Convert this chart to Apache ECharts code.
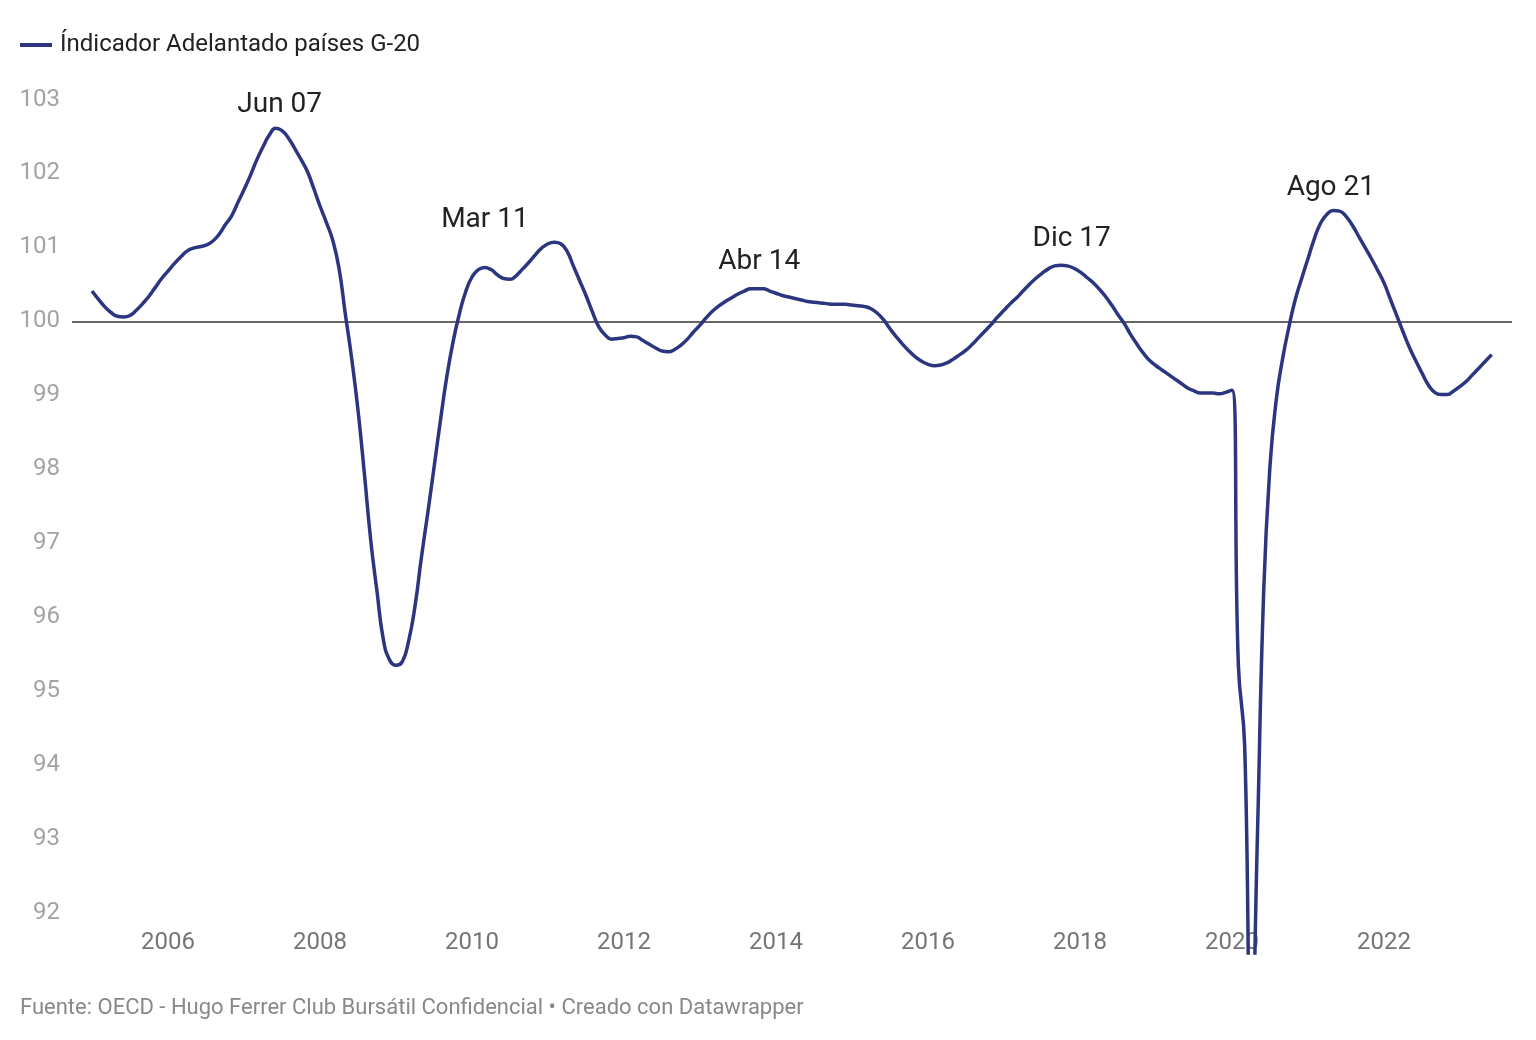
<!DOCTYPE html>
<html>
<head>
<meta charset="utf-8">
<style>
html,body{margin:0;padding:0;background:#fff;}
#chart{width:1536px;height:1040px;}
</style>
<script src="https://cdn.jsdelivr.net/npm/echarts@6/dist/echarts.min.js"></script>
</head>
<body>
<div id="chart"></div>
<script>
// Months: Jan 2005 .. Jun 2023
const startYear = 2005;
const seriesName = 'Índicador Adelantado países G-20';
const v2005 = [100.41,100.30,100.20,100.12,100.07,100.06,100.08,100.15,100.24,100.34,100.46,100.58];
const v2006 = [100.68,100.78,100.87,100.95,100.99,101.01,101.03,101.08,101.17,101.30,101.42,101.60];
const v2007 = [101.78,101.97,102.18,102.36,102.52,102.61,102.58,102.48,102.34,102.19,102.03,101.80];
const v2008 = [101.56,101.34,101.10,100.72,100.10,99.50,98.80,97.95,97.05,96.35,95.70,95.42];
const v2009 = [95.35,95.40,95.68,96.15,96.80,97.40,98.02,98.65,99.24,99.72,100.10,100.40];
const v2010 = [100.60,100.70,100.73,100.70,100.63,100.58,100.57,100.62,100.71,100.80,100.90,100.99];
const v2011 = [101.05,101.07,101.05,100.95,100.75,100.55,100.35,100.13,99.93,99.82,99.76,99.77];
const v2012 = [99.78,99.80,99.79,99.74,99.69,99.64,99.60,99.59,99.62,99.68,99.76,99.86];
const v2013 = [99.95,100.05,100.14,100.21,100.27,100.32,100.37,100.41,100.44,100.44,100.44,100.41];
const v2014 = [100.38,100.35,100.33,100.31,100.29,100.27,100.26,100.25,100.24,100.23,100.23,100.23];
const v2015 = [100.22,100.21,100.20,100.17,100.11,100.02,99.90,99.79,99.69,99.60,99.52,99.46];
const v2016 = [99.42,99.40,99.41,99.44,99.49,99.55,99.61,99.69,99.78,99.87,99.96,100.06];
const v2017 = [100.15,100.24,100.32,100.41,100.50,100.58,100.65,100.71,100.75,100.76,100.75,100.72];
const v2018 = [100.67,100.60,100.53,100.44,100.34,100.22,100.09,99.97,99.82,99.69,99.57,99.47];
const v2019 = [99.40,99.34,99.28,99.22,99.16,99.10,99.06,99.03,99.03,99.03,99.02,99.04];
const v2020 = [99.07,95.36,94.26,89.80,93.00,96.35,98.05,98.95,99.50,99.93,100.30,100.58];
const v2021 = [100.85,101.12,101.33,101.45,101.50,101.49,101.42,101.30,101.15,101.00,100.85,100.69];
const v2022 = [100.52,100.30,100.08,99.86,99.65,99.47,99.30,99.14,99.04,99.01,99.01,99.06];
const v2023 = [99.12,99.19,99.28,99.37,99.46,99.55];
const yearValues = [v2005,v2006,v2007,v2008,v2009,v2010,v2011,v2012,v2013,v2014,v2015,v2016,v2017,v2018,v2019,v2020,v2021,v2022,v2023];

const yTicks = [92,93,94,95,96,97,98,99,100,101,102,103];
const xTicks = [2006,2008,2010,2012,2014,2016,2018,2020,2022];

// annotations: [label, year position, value position]
const annLabels = ['Jun 07','Mar 11','Abr 14','Dic 17','Ago 21'];
const annX = [2007.47, 2010.17, 2013.78, 2017.89, 2021.30];
const annY = [102.96, 101.41, 100.85, 101.15, 101.85];

const sourceText = 'Fuente: OECD - Hugo Ferrer Club Bursátil Confidencial • Creado con Datawrapper';

// build [x, value] pairs, x = year + month/12
const points = [];
yearValues.forEach((arr, yi) => {
  arr.forEach((v, m) => points.push([startYear + yi + m / 12, v]));
});

const FONT = 'Roboto, "Noto Sans", sans-serif';
const chart = echarts.init(document.getElementById('chart'), null, {renderer: 'canvas'});
chart.setOption({
  animation: false,
  backgroundColor: '#ffffff',
  textStyle: {fontFamily: FONT},
  legend: {
    left: 20, top: 33, padding: 0,
    icon: 'rect', itemWidth: 32, itemHeight: 4, itemGap: 10,
    textStyle: {fontSize: 24, color: '#222', fontFamily: FONT, padding: [0,0,0,3]},
    data: [seriesName]
  },
  grid: {left: 72, right: 24, top: 99.5, bottom: 87, containLabel: false},
  xAxis: {
    type: 'value',
    min: 2004.737, max: 2023.684,
    axisLine: {show: false}, axisTick: {show: false}, splitLine: {show: false},
    axisLabel: {
      customValues: xTicks,
      formatter: v => String(Math.round(v)),
      color: '#757575', fontSize: 24, fontFamily: FONT,
      margin: -22
    }
  },
  yAxis: {
    type: 'value',
    min: 91.46, max: 103,
    axisLine: {show: false}, axisTick: {show: false}, splitLine: {show: false},
    axisLabel: {
      customValues: yTicks,
      formatter: v => String(Math.round(v)),
      color: '#a3a3a3', fontSize: 24, fontFamily: FONT,
      margin: 12,
      padding: [9,0,0,0]
    }
  },
  series: [{
    name: seriesName,
    type: 'line',
    data: points,
    showSymbol: false,
    smooth: 0.5,
    clip: true,
    lineStyle: {color: '#2b3580', width: 3.5},
    itemStyle: {color: '#2b3580'},
    z: 3,
    markLine: {
      silent: true, symbol: 'none',
      label: {show: false},
      lineStyle: {color: '#333', width: 1.5, type: 'solid'},
      data: [{yAxis: 100}],
      z: 1
    },
    markPoint: {
      silent: true,
      symbol: 'circle', symbolSize: 0,
      label: {show: true, position: 'inside', fontSize: 28, color: '#222', fontFamily: FONT,
        offset: [0, 3],
        formatter: p => p.name},
      data: annLabels.map((t, i) => ({name: t, coord: [annX[i], annY[i]]}))
    }
  }],
  graphic: [{
    type: 'text', left: 20, top: 997,
    style: {text: sourceText, fontSize: 22, fill: '#888', fontFamily: FONT}
  }]
});
</script>
</body>
</html>
